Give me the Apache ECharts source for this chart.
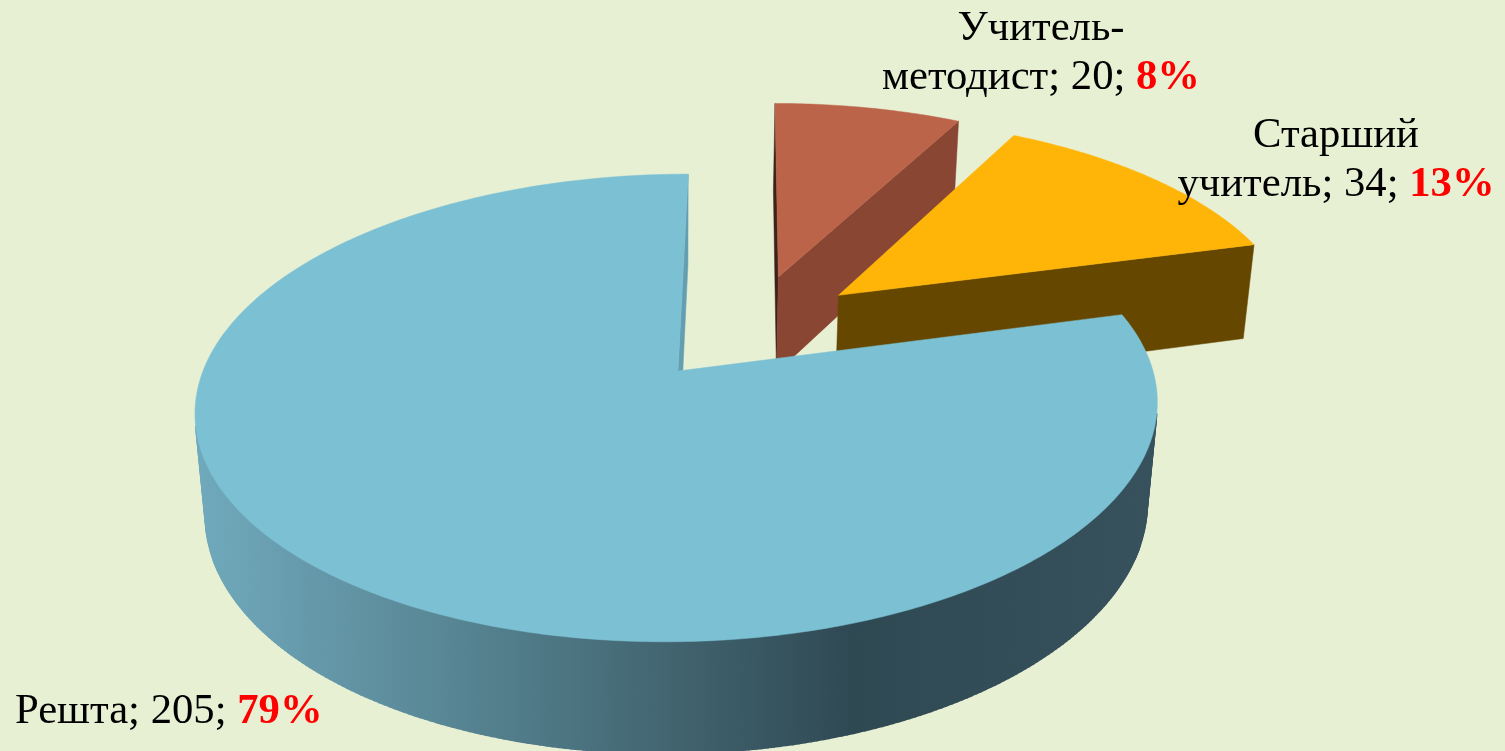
<!DOCTYPE html>
<html><head><meta charset="utf-8">
<style>html,body{margin:0;padding:0;background:#E8F0D4;overflow:hidden}#c{width:1505px;height:751px}</style>
<script src="https://cdn.jsdelivr.net/npm/echarts@6/dist/echarts.min.js"></script>
</head><body><div id="c"></div>
<script>
// Data
const names = ['Решта', 'Учитель-\nметодист', 'Старший\nучитель'];
const values = [205, 20, 34];

// Look
const topColors = ['#7CC0D4', '#BC644A', '#FFB508'];
const sideColors = ['#649FB1', '#884633', '#654700'];
const edgeColors = [null, '#3E2219', null];
const explode = [0.2375, 0.26, 0.26];
const drift = [0, 0.008, 0];
const drawOrder = [2, 0, 1];
const labelAnchors = [[15, 687, 'left'], [1041, 4, 'center'], [1336, 111, 'center']];
const firstAngle = 75.1;

// Camera for the tilted pie
const cam = {x0: 678, y0: 371, F: 475, G: 228, K: 0.158, H: 0.024, M: 0.086, T: 419, depth: 0.244};
function project(u, v, w) {
  const d = 1 + cam.K * v + cam.M * w;
  return [cam.x0 + cam.F * (u + cam.H * v) / d, cam.y0 - (cam.G * v - cam.T * w) / d];
}

const total = values.reduce((a, b) => a + b, 0);
function sliceAngles(i) {
  let a = firstAngle;
  for (let k = 0; k < i; k++) a += values[k] / total * 360;
  return [a, a + values[i] / total * 360];
}
const rad = d => d * Math.PI / 180;
function centre(i) {
  const [a0, a1] = sliceAngles(i);
  const m = rad((a0 + a1) / 2);
  const [b0, b1] = sliceAngles(0);
  const n = rad((b0 + b1) / 2);
  // The origin of the camera is the main slice's apex.
  return [explode[i] * Math.sin(m) - explode[0] * Math.sin(n) + drift[i],
          explode[i] * Math.cos(m) - explode[0] * Math.cos(n)];
}
function arc(i, w) {
  const [a0, a1] = sliceAngles(i);
  const [cu, cv] = centre(i);
  const n = Math.max(24, Math.round((a1 - a0) * 1.5));
  const pts = [];
  for (let k = 0; k <= n; k++) {
    const t = rad(a0 + (a1 - a0) * k / n);
    pts.push(project(cu + Math.sin(t), cv + Math.cos(t), w));
  }
  return pts;
}
function facesViewer(q) {
  let s = 0;
  for (let k = 0; k < q.length; k++) {
    const a = q[k], b = q[(k + 1) % q.length];
    s += a[0] * b[1] - b[0] * a[1];
  }
  return s < 0;
}
const wallShade = new echarts.graphic.LinearGradient(200, 0, 1160, 0, [
  {offset: 0, color: '#70A9BC'},
  {offset: 0.28, color: '#568391'},
  {offset: 0.68, color: '#2F4953'},
  {offset: 1, color: '#37525D'}
], true);

function renderSlice(params, api) {
  const i = params.dataIndex;
  const value = api.value(0);
  const z = drawOrder[i] * 10;
  const [cu, cv] = centre(i);
  const d = cam.depth;
  const topArc = arc(i, 0), botArc = arc(i, d);
  const apexT = project(cu, cv, 0), apexB = project(cu, cv, d);
  const poly = (points, fill, dz, lw) => ({
    type: 'polygon', z2: z + dz, shape: {points},
    style: {fill, stroke: fill, lineWidth: lw || 0.5}
  });
  const wall = [];
  for (let k = 0; k + 1 < topArc.length; k++) {
    const q = [topArc[k], topArc[k + 1], botArc[k + 1], botArc[k]];
    if (facesViewer(q)) wall.push(poly(q, i === 0 ? wallShade : sideColors[i], 1, 1.5));
  }
  const pct = Math.round(value / total * 100);
  const lines = names[i].split('\n');
  const last = lines.pop();
  const head = lines.length ? '{t|' + lines.join('\n') + '}\n' : '';
  const [lx, ly, la] = labelAnchors[i];
  const end = topArc.length - 1;
  const startFace = edgeColors[i] ? [poly([apexT, topArc[0], botArc[0], apexB], edgeColors[i], 0)] : [];
  return {
    type: 'group',
    children: startFace.concat(wall, [
      poly([apexT, topArc[end], botArc[end], apexB], sideColors[i], 2),
      poly([apexT].concat(topArc), topColors[i], 3),
      {
        type: 'text', z2: 100, x: lx, y: ly,
        style: {
          text: head + '{t|' + last + '; ' + value + '; }{p|' + pct + '%}',
          align: la, verticalAlign: 'top',
          rich: {
            t: {fontFamily: 'Liberation Serif', fontSize: 42.7, lineHeight: 49, fill: '#000', color: '#000'},
            p: {fontFamily: 'Liberation Serif', fontSize: 42.7, lineHeight: 49, fontWeight: 'bold', fill: '#FF0000', color: '#FF0000'}
          }
        }
      }
    ])
  };
}

const chart = echarts.init(document.getElementById('c'), null, {renderer: 'canvas'});
chart.setOption({
  animation: false,
  backgroundColor: '#E8F0D4',
  series: [{
    type: 'custom',
    coordinateSystem: 'none',
    renderItem: renderSlice,
    data: values.map((v, i) => ({name: names[i], value: [v]}))
  }]
});
</script></body></html>
